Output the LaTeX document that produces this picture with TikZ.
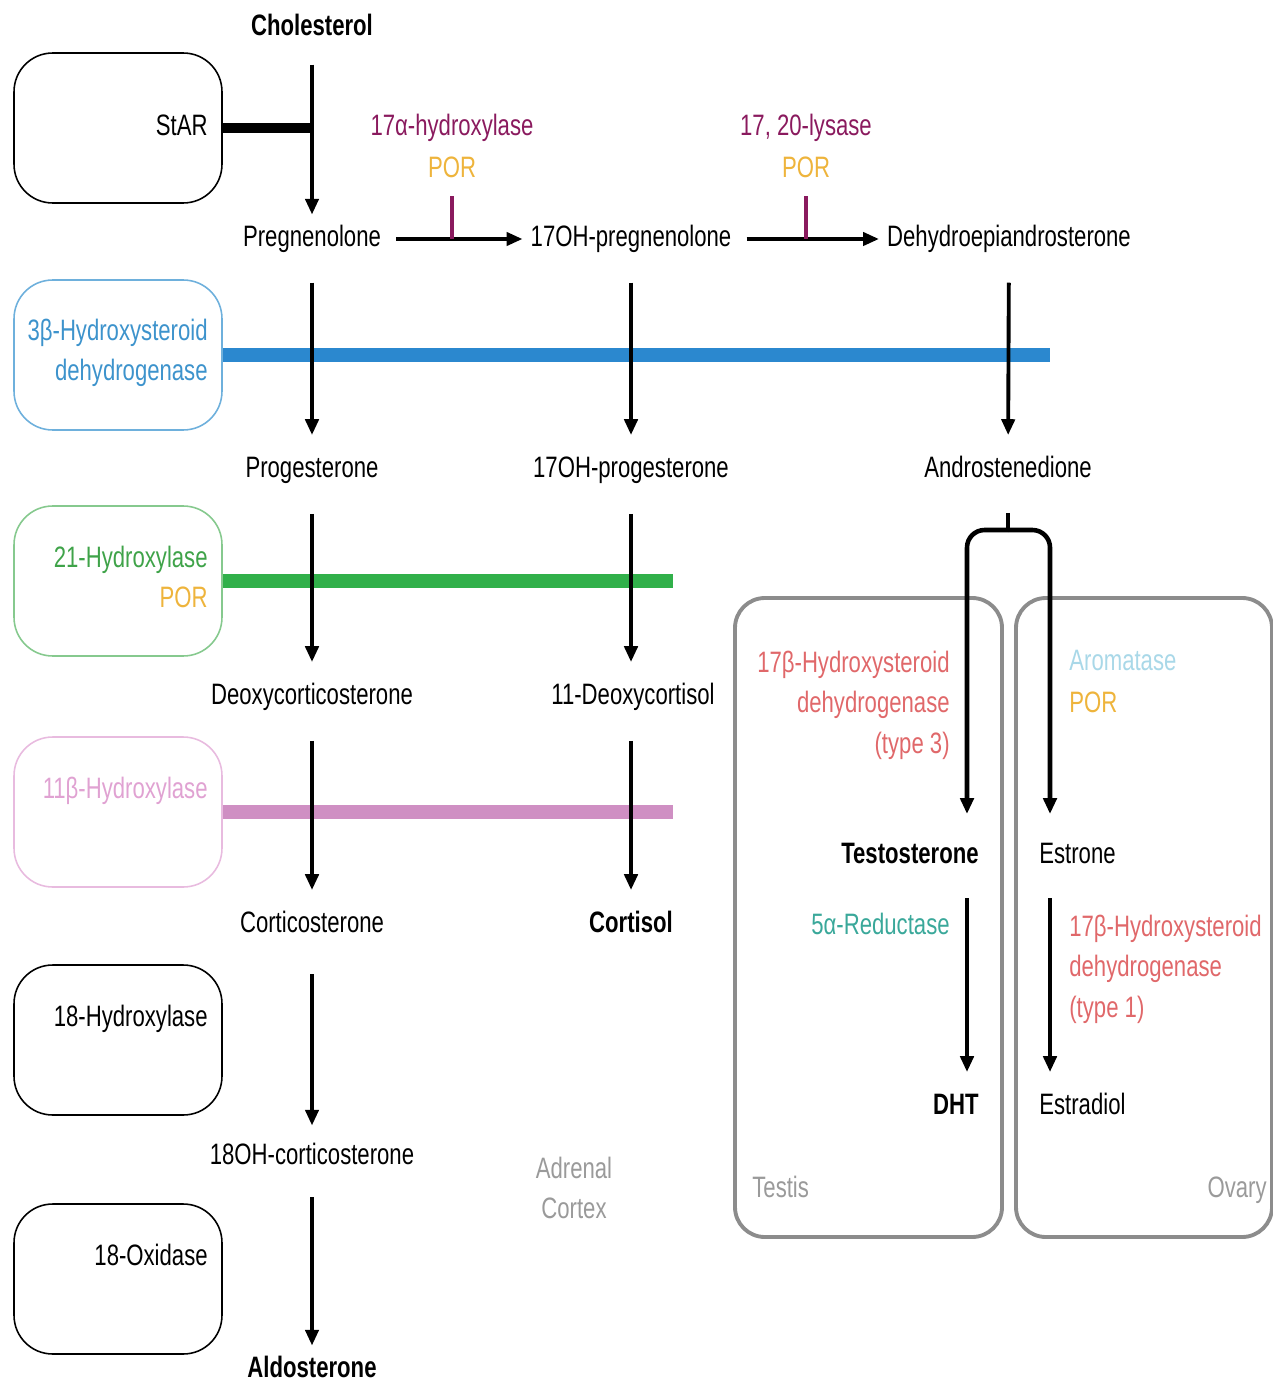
\documentclass[tikz,border=0pt]{standalone}
\usepackage{fontspec}
\setmainfont{Liberation Sans}[FakeStretch=0.75]
\usetikzlibrary{arrows.meta}

\definecolor{enzpurple}{HTML}{8A1A5E}
\definecolor{porgold}{HTML}{EEB43C}
\definecolor{hsdtext}{HTML}{3D93CC}
\definecolor{hsdbar}{HTML}{2B88CF}
\definecolor{hsdline}{HTML}{6EB0DC}
\definecolor{hydtext}{HTML}{3FA349}
\definecolor{hydbar}{HTML}{31B04A}
\definecolor{hydline}{HTML}{86C98E}
\definecolor{pinktext}{HTML}{E0A2D2}
\definecolor{pinkbar}{HTML}{CF8FC3}
\definecolor{pinkline}{HTML}{E8BBDF}
\definecolor{hsdred}{HTML}{E0686A}
\definecolor{redteal}{HTML}{3AA89A}
\definecolor{aromblue}{HTML}{A9D8E8}
\definecolor{organgray}{HTML}{8C8C8C}
\definecolor{labelgray}{HTML}{9A9A9A}

\begin{document}
\begin{tikzpicture}[x=0.02cm, y=-0.02cm,
    >={Triangle[length=9pt,width=7.5pt]},
    every node/.style={font=\fontsize{16.8}{23}\selectfont, inner sep=0pt},
    chem/.style={text height=12pt, text depth=3.4pt},
    down/.style={->, line width=2.2pt, shorten <=17pt, shorten >=12pt},
    across/.style={->, line width=2pt, shorten <=8.5pt, shorten >=4.5pt},
    enzbox/.style={draw, line width=0.9pt, rounded corners=22pt, minimum width=4.16cm, minimum height=3cm},
    bar/.style={line width=8pt},
    tick/.style={enzpurple, line width=2pt, shorten <=7pt},
    branch/.style={line width=2.6pt, rounded corners=10pt},
    organ/.style={draw=organgray, line width=2.2pt, rounded corners=17pt}]
  \useasboundingbox (0,0) rectangle (1273,1385);

  % adrenal cortex
  \node[enzbox] (starbox) at (118,128) {};
  \node[enzbox, draw=hsdline] (hsdbox) at (118,355) {};
  \node[enzbox, draw=hydline] (hydbox) at (118,581) {};
  \node[enzbox, draw=pinkline] (betabox) at (118,812) {};
  \node[enzbox] (ohbox) at (118,1040) {};
  \node[enzbox] (oxbox) at (118,1279) {};

  \node[chem, anchor=east] (star) at (208,128) {StAR};
  \node[anchor=east, align=right, text=hsdtext] (hsd) at (208,353) {3β-Hydroxysteroid\\dehydrogenase};
  \node[chem, anchor=east, text=hydtext] (hyd21) at (208,560) {21-Hydroxylase};
  \node[chem, anchor=east, text=porgold] (por21) at (208,600) {POR};
  \node[chem, anchor=east, text=pinktext] (hyd11) at (208,791) {11β-Hydroxylase};
  \node[chem, anchor=east] (hyd18) at (208,1019) {18-Hydroxylase};
  \node[chem, anchor=east] (ox18) at (208,1258) {18-Oxidase};

  \node[chem, font=\fontsize{16.8}{23}\selectfont\bfseries] (chol) at (312,28) {Cholesterol};
  \node[chem] (preg) at (312,239) {Pregnenolone};
  \node[chem] (ohpreg) at (631,239) {17OH-pregnenolone};
  \node[chem] (dhea) at (1009,239) {Dehydroepiandrosterone};
  \node[chem] (prog) at (312,470) {Progesterone};
  \node[chem] (ohprog) at (631,470) {17OH-progesterone};
  \node[chem] (andro) at (1008,470) {Androstenedione};
  \node[chem] (doc) at (312,697) {Deoxycorticosterone};
  \node[chem] (dcort) at (633,697) {11-Deoxycortisol};
  \node[chem] (cortico) at (312,925) {Corticosterone};
  \node[chem, font=\fontsize{16.8}{23}\selectfont\bfseries] (cortisol) at (631,925) {Cortisol};
  \node[chem] (ohcort) at (312,1157) {18OH-corticosterone};
  \node[chem, font=\fontsize{16.8}{23}\selectfont\bfseries] (aldo) at (312,1370) {Aldosterone};
  \node[align=center, text=labelgray] (adrenal) at (574,1188) {Adrenal\\Cortex};

  \node[chem, text=enzpurple] (hyd17) at (452,128) {17α-hydroxylase};
  \node[chem, text=porgold] (por17) at (452,170) {POR};
  \node[chem, text=enzpurple] (lyase) at (806,128) {17, 20-lysase};
  \node[chem, text=porgold] (porly) at (806,170) {POR};

  \coordinate (starend) at (312,128);
  \coordinate (hsdend) at (1050,355);
  \coordinate (hydend) at (673,581);
  \coordinate (betaend) at (673,812);
  \coordinate (t17) at (452,239);
  \coordinate (tly) at (806,239);

  \draw[bar, line width=5.5pt] (starbox.east) -- (starend);
  \draw[bar, hsdbar] (hsdbox.east) -- (hsdend);
  \draw[bar, hydbar] (hydbox.east) -- (hydend);
  \draw[bar, pinkbar] (betabox.east) -- (betaend);

  \draw[down, shorten <=13pt, shorten >=6pt] (chol) -- (preg);
  \draw[down] (preg) -- (prog);
  \draw[down] (ohpreg) -- (ohprog);
  \draw[down] (dhea) -- (andro);
  \draw[down] (prog) -- (doc);
  \draw[down] (ohprog) -- (dcort.north -| ohprog);
  \draw[down] (doc) -- (cortico);
  \draw[down] (dcort.south -| ohprog) -- (cortisol);
  \draw[down, shorten <=20pt, shorten >=10pt] (cortico) -- (ohcort);
  \draw[down, shorten <=15pt, shorten >=6pt] (ohcort) -- (aldo);

  \draw[across] (preg) -- (ohpreg);
  \draw[across] (ohpreg) -- (dhea);
  \draw[tick] (por17) -- (t17);
  \draw[tick] (porly) -- (tly);

  % testis and ovary
  \draw[organ] (735,598) rectangle (1002,1237);
  \draw[organ] (1016,598) rectangle (1272,1237);

  \node[anchor=east, align=right, text=hsdred] (hsd3) at (950,705) {17β-Hydroxysteroid\\dehydrogenase\\(type 3)};
  \node[chem, anchor=west, text=aromblue] (arom) at (1069,663) {Aromatase};
  \node[chem, anchor=west, text=porgold] (porarom) at (1069,705) {POR};
  \node[chem, anchor=east, font=\fontsize{16.8}{23}\selectfont\bfseries] (testo) at (979,856) {Testosterone};
  \node[chem, anchor=west] (estrone) at (1039,856) {Estrone};
  \node[chem, anchor=east, text=redteal] (red5) at (950,927) {5α-Reductase};
  \node[anchor=west, align=left, text=hsdred] (hsd1) at (1069,969) {17β-Hydroxysteroid\\dehydrogenase\\(type 1)};
  \node[chem, anchor=east, font=\fontsize{16.8}{23}\selectfont\bfseries] (dht) at (979,1107) {DHT};
  \node[chem, anchor=west] (estradiol) at (1039,1107) {Estradiol};
  \node[chem, anchor=west, text=labelgray] (testis) at (752,1190) {Testis};
  \node[chem, anchor=east, text=labelgray] (ovary) at (1267,1190) {Ovary};

  \coordinate (br) at (1008,530);
  \coordinate (tcol) at (967,0);
  \coordinate (ecol) at (1050,0);

  \draw[branch, shorten <=16.5pt] (andro) -- (br);
  \draw[branch, ->, shorten >=16pt] (br) -| (testo.north -| tcol);
  \draw[branch, ->, shorten >=16pt] (br) -| (estrone.north -| ecol);
  \draw[down, shorten <=16pt] (testo.south -| tcol) -- (dht.north -| tcol);
  \draw[down, shorten <=16pt] (estrone.south -| ecol) -- (estradiol.north -| ecol);
\end{tikzpicture}
\end{document}
